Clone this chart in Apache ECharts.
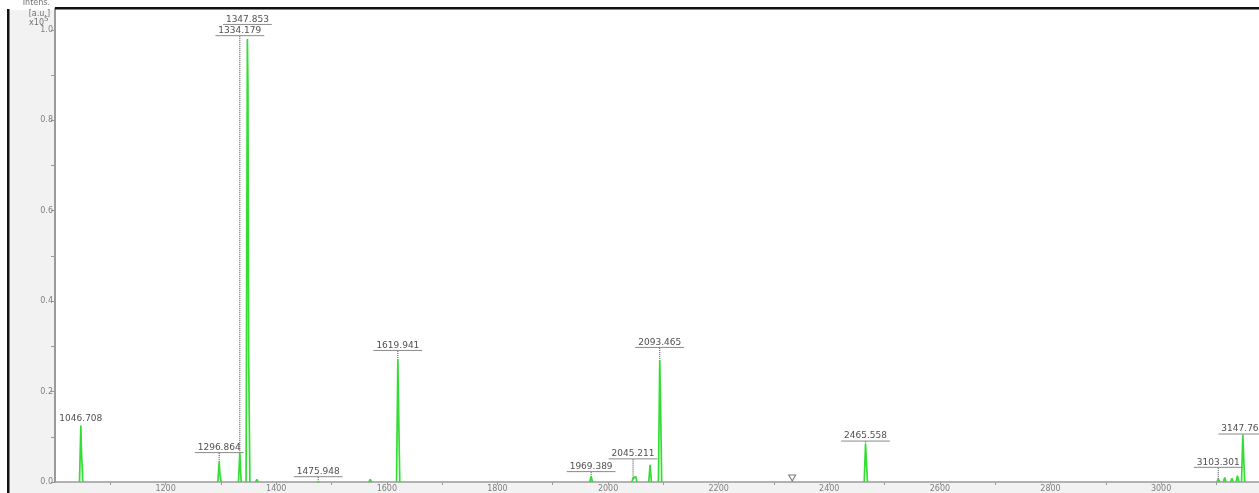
<!DOCTYPE html>
<html>
<head>
<meta charset="utf-8">
<script src="https://cdn.jsdelivr.net/npm/echarts@6/dist/echarts.min.js"></script>
<style>
  html, body { margin: 0; padding: 0; background: #ffffff; }
  #chart { width: 1259px; height: 493px; }
</style>
</head>
<body>
<div id="chart"></div>
<script>
// Mass spectrum: peak centroids (m/z) and intensities (x10^5 a.u.)
const peakMz = [1046.708, 1047.8, 1296.864, 1298.0, 1334.179, 1347.853, 1348.9, 1350.0,
  1365.0, 1475.948, 1570.0, 1619.941, 1621.0, 1969.389, 2045.211, 2050.0, 2076.0,
  2093.465, 2094.6, 2465.558, 2466.6, 3103.301, 3115.0, 3128.0, 3138.0, 3147.769, 3148.8];
const peakIntensity = [0.125, 0.07, 0.044, 0.02, 0.066, 0.98, 0.87, 0.3,
  0.006, 0.004, 0.006, 0.27, 0.18, 0.013, 0.008, 0.012, 0.038,
  0.27, 0.2, 0.085, 0.06, 0.007, 0.01, 0.008, 0.014, 0.105, 0.07];

// Annotated peaks
const labelMz = [1046.708, 1296.864, 1334.179, 1347.853, 1475.948, 1619.941,
  1969.389, 2045.211, 2093.465, 2465.558, 3103.301, 3147.769];

// Unresolved-peak marker
const markerMz = [2333];

// Axis ranges / ticks
const xMin = 1000, xMax = 3177, xStep = 100;
const yMin = 0, yMax = 1.0462, yStep = 0.1;

// Label placement: pixel lift of the underline above the peak top
const labelLayout = [
  { lift: 2, underline: false, leader: false },
  { lift: 10, underline: true, leader: true },
  { lift: 417, underline: true, leader: true },
  { lift: 15, underline: true, leader: false },
  { lift: 4, underline: true, leader: true },
  { lift: 10, underline: true, leader: true },
  { lift: 5, underline: true, leader: true },
  { lift: 20, underline: true, leader: true },
  { lift: 13, underline: true, leader: true },
  { lift: 3, underline: true, leader: true },
  { lift: 12, underline: true, leader: true },
  { lift: 1, underline: true, leader: false }
];

const GREEN = '#33dd33';
const PEAK_HALF_WIDTH = 2.4; // m/z

// Stick-like peak profile, broken between separated peaks
function buildTrace() {
  const pairs = peakMz.map((m, i) => [m, peakIntensity[i]]).sort((a, b) => a[0] - b[0]);
  const pts = [];
  let prev = -Infinity;
  pairs.forEach(([m, h]) => {
    if (m - prev > 2 * PEAK_HALF_WIDTH) {
      if (pts.length) pts.push([prev + PEAK_HALF_WIDTH, 0], [prev + PEAK_HALF_WIDTH + 0.01, '-']);
      pts.push([m - PEAK_HALF_WIDTH, 0]);
    }
    pts.push([m, h]);
    prev = m;
  });
  pts.push([prev + PEAK_HALF_WIDTH, 0]);
  return pts;
}

function heightAt(m) {
  const i = peakMz.indexOf(m);
  return i >= 0 ? peakIntensity[i] : 0;
}

const chart = echarts.init(document.getElementById('chart'), null, { renderer: 'canvas' });
const FONT = '"DejaVu Sans", Verdana, sans-serif';

chart.setOption({
  animation: false,
  backgroundColor: '#f3f2f2',
  grid: {
    left: 55, right: 0, top: 9, bottom: 8,
    show: true, backgroundColor: '#ffffff', borderWidth: 0
  },
  xAxis: {
    type: 'value', min: xMin, max: xMax, interval: xStep,
    splitLine: { show: false },
    axisLine: { lineStyle: { color: '#9a9a9a', width: 1.5 } },
    axisTick: { length: 3, lineStyle: { color: '#9a9a9a' } },
    axisLabel: {
      margin: 3, fontSize: 8, color: '#808080', fontFamily: FONT,
      showMaxLabel: false, showMinLabel: false,
      formatter: v => (Math.round(v) % 200 === 0 ? String(Math.round(v)) : '')
    }
  },
  yAxis: {
    type: 'value', min: yMin, max: yMax, interval: yStep,
    splitLine: { show: false },
    axisLine: { show: true, lineStyle: { color: '#9a9a9a', width: 2 } },
    axisTick: { show: true, length: 4, lineStyle: { color: '#9a9a9a' } },
    axisLabel: {
      margin: 2, fontSize: 8, color: '#808080', fontFamily: FONT, showMaxLabel: false,
      formatter: v => {
        const k = Math.round(v * 10);
        return (k % 2 === 0 && k <= 10 && Math.abs(v * 10 - k) < 1e-6) ? (k / 10).toFixed(1) : '';
      }
    }
  },
  graphic: [
    { type: 'rect', z: 100, shape: { x: 0, y: 0, width: 1259, height: 7 }, style: { fill: '#ffffff' } },
    { type: 'rect', z: 100, shape: { x: 0, y: 0, width: 54, height: 10 }, style: { fill: '#ffffff' } },
    { type: 'rect', z: 100, shape: { x: 0, y: 0, width: 7, height: 493 }, style: { fill: '#ffffff' } },
    { type: 'rect', z: 101, shape: { x: 55, y: 7, width: 1204, height: 2.5 }, style: { fill: '#111111' } },
    { type: 'rect', z: 101, shape: { x: 7, y: 9, width: 2.5, height: 484 }, style: { fill: '#111111' } },
    { type: 'text', z: 102, style: { text: 'Intens.', x: 50, y: 3, align: 'right', verticalAlign: 'middle', font: '8px ' + FONT, fill: '#707070' } },
    { type: 'text', z: 102, style: { text: '[a.u.]', x: 50, y: 14, align: 'right', verticalAlign: 'middle', font: '8px ' + FONT, fill: '#707070' } },
    { type: 'text', z: 102, style: { text: 'x10', x: 44, y: 22.5, align: 'right', verticalAlign: 'middle', font: '8px ' + FONT, fill: '#707070' } },
    { type: 'text', z: 102, style: { text: '5', x: 44, y: 19.5, align: 'left', verticalAlign: 'middle', font: '7px ' + FONT, fill: '#707070' } }
  ],
  series: [
    {
      name: 'spectrum',
      type: 'line',
      data: buildTrace(),
      showSymbol: false,
      connectNulls: false,
      lineStyle: { color: GREEN, width: 1.7 },
      z: 3
    },
    {
      name: 'peak labels',
      type: 'custom',
      clip: false,
      z: 4,
      data: labelMz.map(m => [m, heightAt(m)]),
      renderItem: (params, api) => {
        const i = params.dataIndex;
        const cfg = labelLayout[i];
        const p = api.coord([api.value(0), api.value(1)]);
        const uy = p[1] - cfg.lift;
        const text = labelMz[i].toFixed(3);
        const w = text.length * 6.1;
        const children = [{
          type: 'text',
          style: { text, x: p[0], y: uy, align: 'center', verticalAlign: 'bottom', fill: '#505050', font: '9px ' + FONT }
        }];
        if (cfg.underline) {
          children.push({ type: 'line', shape: { x1: p[0] - w / 2, y1: uy + 0.5, x2: p[0] + w / 2, y2: uy + 0.5 }, style: { stroke: '#8a8a8a', lineWidth: 1 } });
        }
        if (cfg.leader) {
          children.push({ type: 'line', shape: { x1: p[0], y1: uy + 1, x2: p[0], y2: p[1] }, style: { stroke: '#444', lineWidth: 1, lineDash: [1, 1] } });
        }
        return { type: 'group', children };
      }
    },
    {
      name: 'marker',
      type: 'scatter',
      data: markerMz.map(m => [m, 0.009]),
      symbol: 'path://M0,0 L10,0 L5,9 Z',
      symbolSize: [7, 6],
      itemStyle: { color: 'rgba(0,0,0,0)', borderColor: '#555', borderWidth: 1 },
      z: 4
    }
  ]
});
</script>
</body>
</html>
